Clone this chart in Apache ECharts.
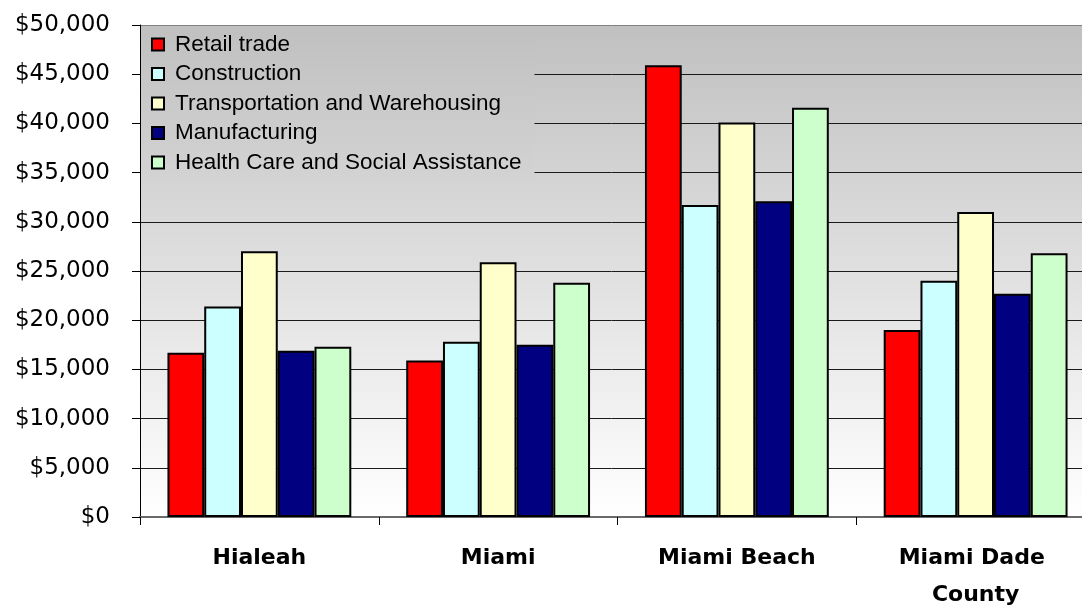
<!DOCTYPE html>
<html>
<head>
<meta charset="utf-8">
<script src="https://cdn.jsdelivr.net/npm/echarts@6/dist/echarts.min.js"></script>
<style>
  html, body { margin: 0; padding: 0; background: #ffffff; }
  #chart { width: 1082px; height: 607px; }
</style>
</head>
<body>
<div id="chart"></div>
<script>
// Average annual wages by industry, by area
const categories = ['Hialeah', 'Miami', 'Miami Beach', 'Miami Dade County'];

const retailTrade      = [16700, 15900, 45900, 19000];
const construction     = [21400, 17800, 31700, 24000];
const transportation   = [27000, 25900, 40100, 31000];
const manufacturing    = [16900, 17500, 32100, 22700];
const healthCare       = [17300, 23800, 41600, 26800];

const seriesNames = [
  'Retail trade',
  'Construction',
  'Transportation and Warehousing',
  'Manufacturing',
  'Health Care and Social Assistance'
];
const seriesValues = [retailTrade, construction, transportation, manufacturing, healthCare];
const seriesColors = ['#ff0000', '#ccffff', '#ffffcc', '#000080', '#ccffcc'];

const yMin = 0, yMax = 50000, yStep = 5000;

const chart = echarts.init(document.getElementById('chart'), null, { renderer: 'canvas' });

// the top gridline doubles as the plot's upper border
const gridLineColors = [];
for (let v = yMin; v <= yMax; v += yStep) {
  gridLineColors.push(v === yMax ? '#808080' : '#1a1a1a');
}

chart.setOption({
  animation: false,
  backgroundColor: '#ffffff',
  grid: {
    left: 140, top: 25, right: -13, bottom: 90,
    outerBoundsMode: 'none',
    containLabel: false,
    show: true,
    borderWidth: 0,
    backgroundColor: {
      type: 'linear', x: 0, y: 0, x2: 0, y2: 1,
      colorStops: [
        { offset: 0, color: '#c0c0c0' },
        { offset: 1, color: '#ffffff' }
      ]
    }
  },
  legend: {
    orient: 'vertical',
    left: 141,
    top: 26,
    padding: [7, 13, 6, 10],
    itemGap: 6.5,
    itemWidth: 12,
    itemHeight: 12,
    icon: 'rect',
    backgroundColor: {
      type: 'linear', x: 0, y: 0, x2: 0, y2: 1,
      colorStops: [
        { offset: 0, color: '#c0c0c0' },
        { offset: 1, color: '#d3d3d3' }
      ]
    },
    textStyle: {
      fontFamily: 'Liberation Sans, Arial, sans-serif',
      fontSize: 22.5,
      color: '#000000',
      lineHeight: 22,
      padding: [0, 0, 0, 6]
    },
    data: seriesNames
  },
  xAxis: {
    type: 'category',
    data: categories,
    axisLine: { show: true, lineStyle: { color: '#6a6a6a', width: 2 } },
    axisTick: { show: true, length: 8, lineStyle: { color: '#000000', width: 1 } },
    axisLabel: {
      interval: 0,
      margin: 23,
      fontFamily: 'DejaVu Sans, sans-serif',
      fontWeight: 'bold',
      fontSize: 22,
      lineHeight: 37,
      color: '#000000',
      width: 200,
      overflow: 'break'
    },
    splitLine: { show: false }
  },
  yAxis: {
    type: 'value',
    min: yMin,
    max: yMax,
    interval: yStep,
    axisLine: { show: true, lineStyle: { color: '#000000', width: 1 } },
    axisTick: { show: true, length: 8, lineStyle: { color: '#000000', width: 1 } },
    axisLabel: {
      margin: 30,
      fontFamily: 'DejaVu Sans, sans-serif',
      fontSize: 23,
      color: '#000000',
      formatter: v => '$' + v.toLocaleString('en-US')
    },
    splitLine: { show: true, lineStyle: { color: gridLineColors, width: 1 } }
  },
  series: seriesNames.map((name, i) => ({
    name: name,
    type: 'bar',
    data: seriesValues[i],
    barGap: '0%',
    barCategoryGap: '23%',
    itemStyle: {
      color: seriesColors[i],
      borderColor: '#000000',
      borderWidth: 2
    }
  }))
});
</script>
</body>
</html>
